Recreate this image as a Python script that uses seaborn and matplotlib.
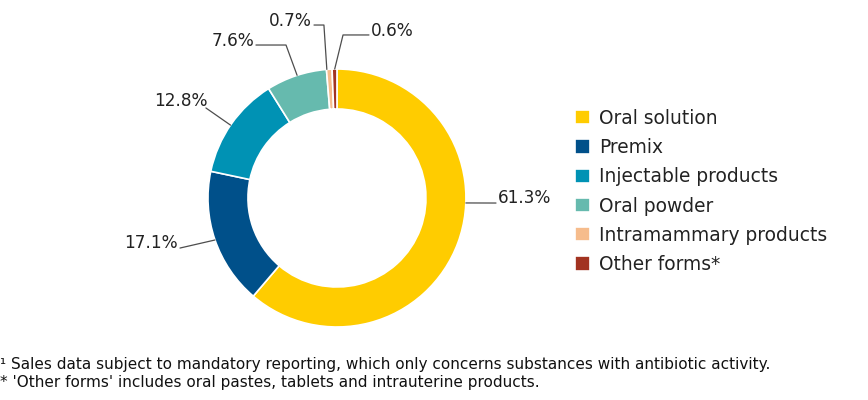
import numpy as np
import matplotlib
matplotlib.use('Agg')
import matplotlib.pyplot as plt
import seaborn as sns

sns.set_style('white')
plt.rcParams['font.family'] = ['DejaVu Sans']

# data
forms = ['Oral solution', 'Premix', 'Injectable products', 'Oral powder',
         'Intramammary products', 'Other forms*']
shares = [61.3, 17.1, 12.8, 7.6, 0.7, 0.6]
colours = ['#FFCC00', '#00508A', '#0092B4', '#66BAAE', '#F6BC8C', '#A23321']
footnotes = ["\u00b9 Sales data subject to mandatory reporting, which only concerns substances with antibiotic activity.",
             "* 'Other forms' includes oral pastes, tablets and intrauterine products."]

# label layout: anchor angle on the ring, leader path, text position, alignment
label_layout = [
    (-2.2, [(1.233, -0.039)], (1.248, 0.0), 'left'),
    (199, [(-1.217, -0.388)], (-1.233, -0.349), 'right'),
    (145.6, [(-1.016, 0.698)], (-1.0, 0.752), 'right'),
    (108, [(-0.395, 1.186), (-0.628, 1.186)], (-0.643, 1.217), 'right'),
    (94.5, [(-0.101, 1.341), (-0.178, 1.341)], (-0.194, 1.372), 'right'),
    (91, [(0.047, 1.264), (0.248, 1.264)], (0.264, 1.295), 'left'),
]

fig = plt.figure(figsize=(8.68, 4.0), dpi=100)
ax = fig.add_axes([0.2396, 0.1825, 0.2972, 0.645])

wedges, _ = ax.pie(shares, colors=colours, startangle=90, counterclock=False,
                   radius=1.0, wedgeprops=dict(width=0.31, edgecolor='white', linewidth=1.2))
ax.set_xlim(-1, 1)
ax.set_ylim(-1, 1)
ax.set_aspect('equal')
ax.axis('off')

for share, (ang, path, txy, ha) in zip(shares, label_layout):
    a = np.deg2rad(ang)
    pts = [(np.cos(a), np.sin(a))] + path
    xs, ys = zip(*pts)
    ax.plot(xs, ys, color='#4d4d4d', lw=0.9, clip_on=False)
    ax.text(txy[0], txy[1], f'{share:.1f}%', ha=ha, va='center', fontsize=12.2,
            color='#222222', clip_on=False)

fig.legend(wedges, forms, loc='upper left', bbox_to_anchor=(0.6624, 0.728),
           frameon=False, fontsize=13.4, handlelength=0.8, handleheight=0.8,
           handletextpad=0.5, labelspacing=0.55, borderpad=0, borderaxespad=0,
           labelcolor='#222222')

for i, line in enumerate(footnotes):
    fig.text(0.0, 0.0875 - i * 0.0425, line, fontsize=11, color='#111111',
             ha='left', va='center')

fig.savefig('out.png', dpi=100)
